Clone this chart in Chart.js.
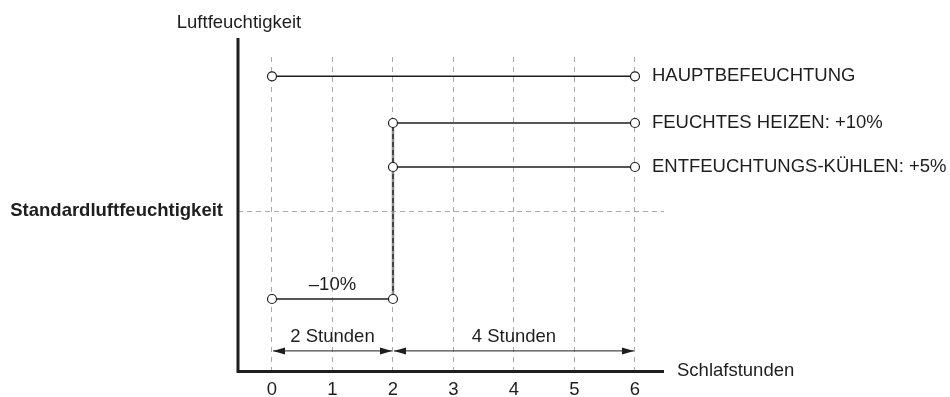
<!DOCTYPE html>
<html>
<head>
<meta charset="utf-8">
<script src="https://cdn.jsdelivr.net/npm/chart.js@4/dist/chart.umd.min.js"></script>
<style>
  html, body { margin: 0; background: #fff; }
</style>
</head>
<body>
<canvas id="chart" width="950" height="397"></canvas>
<script>
// --- DONNEES ---
const hours = [0, 1, 2, 3, 4, 5, 6];
const seriesNames = ['HAUPTBEFEUCHTUNG', 'FEUCHTES HEIZEN: +10%', 'ENTFEUCHTUNGS-KÜHLEN: +5%'];
const seriesStart = [0, 2, 2];
const seriesEnd = [6, 6, 6];
const seriesLevel = [15.3, 10, 5];   // % relative to standard humidity
const dryLabel = '–10%';
const dryStart = 0;
const dryEnd = 2;
const dryLevel = -10;
const standardLevel = 0;
const spanFrom = [0, 2];
const spanTo = [2, 6];
const spanLabels = ['2 Stunden', '4 Stunden'];
const spanLevel = -15.9;

const FONT = '"Liberation Sans", Arial, Helvetica, sans-serif';
const SIZE = 18.5;
const INK = '#1e1e1e';

const lineStyle = {
    borderColor: INK,
    borderWidth: 1.5,
    pointRadius: 4.5,
    pointBackgroundColor: '#fff',
    pointBorderColor: INK,
    pointBorderWidth: 1.2,
    showLine: true,
    fill: false
};

const datasets = seriesNames.map((name, i) => ({
    label: name,
    data: [{ x: seriesStart[i], y: seriesLevel[i] }, { x: seriesEnd[i], y: seriesLevel[i] }],
    ...lineStyle
}));
datasets.push({
    label: dryLabel,
    data: [{ x: dryStart, y: dryLevel }, { x: dryEnd, y: dryLevel }],
    ...lineStyle
});
// saut vertical a 2 h (dessine en dessous des points)
datasets.push({
    label: 'step-dash',
    data: [{ x: dryEnd, y: dryLevel }, { x: dryEnd, y: seriesLevel[1] }],
    borderColor: '#222', borderWidth: 1.3, borderDash: [5, 3], pointRadius: 0, showLine: true
});
datasets.push({
    label: 'step',
    data: [{ x: dryEnd, y: dryLevel }, { x: dryEnd, y: seriesLevel[1] }],
    borderColor: '#8a8a8a', borderWidth: 2.5, pointRadius: 0, showLine: true
});

// --- TEXTES, AXES, FLECHES ---
const decor = {
    id: 'decor',
    beforeDatasetsDraw(chart) {
        const { ctx, chartArea: a, scales: { y } } = chart;
        ctx.save();
        // ligne standard
        const ys = y.getPixelForValue(standardLevel);
        ctx.strokeStyle = '#aaa';
        ctx.lineWidth = 1;
        ctx.setLineDash([5, 4]);
        ctx.beginPath();
        ctx.moveTo(a.left, Math.round(ys) + 0.5);
        ctx.lineTo(a.right, Math.round(ys) + 0.5);
        ctx.stroke();
        ctx.setLineDash([]);
        // axes
        ctx.strokeStyle = INK;
        ctx.lineWidth = 3;
        ctx.beginPath();
        ctx.moveTo(a.left, a.top - 19);
        ctx.lineTo(a.left, a.bottom + 1.5);
        ctx.lineTo(a.right, a.bottom + 1.5);
        ctx.stroke();
        ctx.restore();
    },
    afterDatasetsDraw(chart) {
        const { ctx, chartArea: a, scales: { x, y } } = chart;
        ctx.save();
        ctx.fillStyle = INK;
        ctx.strokeStyle = INK;
        ctx.font = SIZE + 'px ' + FONT;
        ctx.textBaseline = 'middle';

        // noms des series
        ctx.textAlign = 'left';
        seriesNames.forEach((n, i) => {
            ctx.fillText(n, x.getPixelForValue(seriesEnd[i]) + 17, y.getPixelForValue(seriesLevel[i]));
        });

        // -10%
        ctx.textAlign = 'center';
        ctx.fillText(dryLabel, x.getPixelForValue((dryStart + dryEnd) / 2), y.getPixelForValue(dryLevel) - 14);

        // fleches de duree
        const ya = y.getPixelForValue(spanLevel);
        spanFrom.forEach((f, i) => {
            const x1 = x.getPixelForValue(f) + 1;
            const x2 = x.getPixelForValue(spanTo[i]) - 1;
            ctx.lineWidth = 1;
            ctx.beginPath();
            ctx.moveTo(x1, ya);
            ctx.lineTo(x2, ya);
            ctx.stroke();
            ctx.beginPath();
            ctx.moveTo(x1, ya);
            ctx.lineTo(x1 + 12, ya - 3.5);
            ctx.lineTo(x1 + 12, ya + 3.5);
            ctx.closePath();
            ctx.moveTo(x2, ya);
            ctx.lineTo(x2 - 12, ya - 3.5);
            ctx.lineTo(x2 - 12, ya + 3.5);
            ctx.closePath();
            ctx.fill();
            ctx.fillText(spanLabels[i], x.getPixelForValue((f + spanTo[i]) / 2), ya - 14);
        });

        // titres des axes
        ctx.fillText('Luftfeuchtigkeit', a.left + 1, 23);
        ctx.textAlign = 'left';
        ctx.fillText('Schlafstunden', a.right + 13, a.bottom + 1);
        ctx.textAlign = 'right';
        ctx.font = 'bold ' + SIZE + 'px ' + FONT;
        ctx.fillText('Standardluftfeuchtigkeit', a.left - 15, y.getPixelForValue(standardLevel));
        ctx.restore();
    }
};

new Chart(document.getElementById('chart'), {
    type: 'scatter',
    data: { datasets },
    options: {
        responsive: false,
        devicePixelRatio: 1,
        animation: false,
        layout: { padding: { left: 238, right: 286, top: 57, bottom: 0 } },
        plugins: { legend: { display: false }, tooltip: { enabled: false } },
        scales: {
            x: {
                type: 'linear',
                min: -0.562,
                max: 6.48,
                afterBuildTicks: s => { s.ticks = hours.map(v => ({ value: v })); },
                afterFit: s => { s.height = 27; },
                ticks: {
                    color: INK,
                    padding: 11,
                    autoSkip: false,
                    maxRotation: 0,
                    font: { family: FONT, size: SIZE, lineHeight: 1 }
                },
                grid: { color: '#aaa', lineWidth: 1, drawTicks: false },
                border: { display: false, dash: [5, 5] }
            },
            y: {
                display: false,
                min: -18.07,
                max: 17.5
            }
        }
    },
    plugins: [decor]
});
</script>
</body>
</html>
